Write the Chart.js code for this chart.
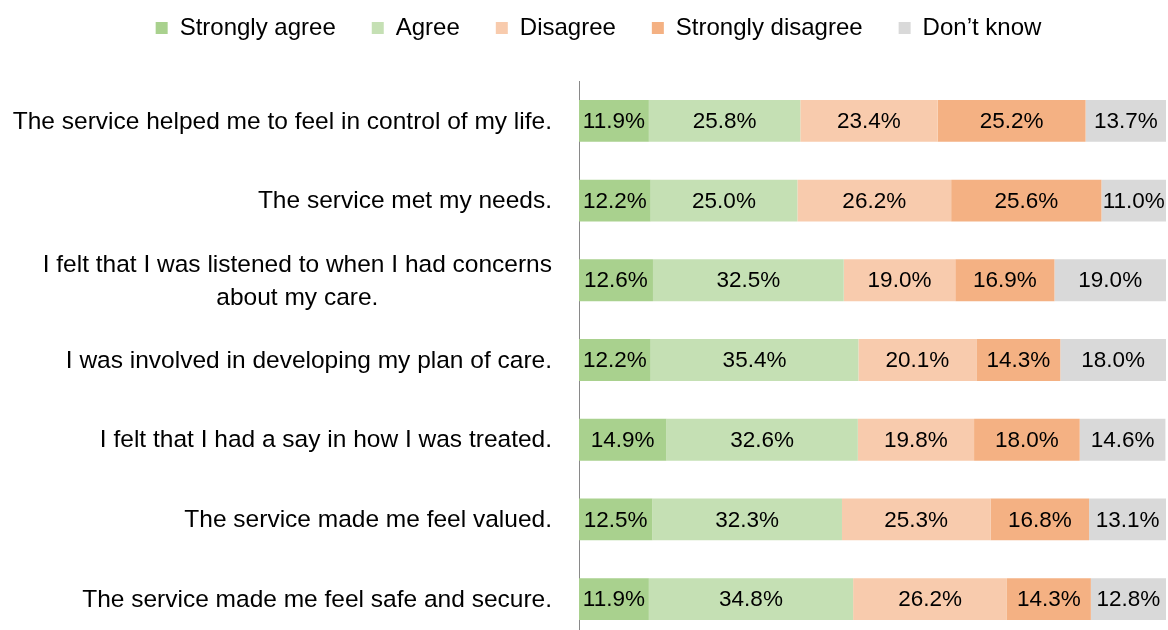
<!DOCTYPE html>
<html>
<head>
<meta charset="utf-8">
<script src="https://cdn.jsdelivr.net/npm/chart.js@4"></script>
<style>
  html, body { margin: 0; padding: 0; background: #fff; overflow: hidden; }
  #wrap { position: relative; width: 1168px; height: 630px; overflow: hidden; }
  #myChart { position: absolute; left: 0; top: -20px; }
</style>
</head>
<body>
<div id="wrap"><canvas id="myChart" width="1168" height="660"></canvas></div>
<script>
// Survey statements, top to bottom
var statements = [
  ['The service helped me to feel in control of my life.'],
  ['The service met my needs.'],
  ['I felt that I was listened to when I had concerns', 'about my care.'],
  ['I was involved in developing my plan of care.'],
  ['I felt that I had a say in how I was treated.'],
  ['The service made me feel valued.'],
  ['The service made me feel safe and secure.']
];
var seriesNames = ['Strongly agree', 'Agree', 'Disagree', 'Strongly disagree', 'Don\u2019t know'];
var seriesColors = ['#A9D18E', '#C5E0B4', '#F8CBAD', '#F4B183', '#D9D9D9'];

// percentages per statement
var stronglyAgree    = [11.9, 12.2, 12.6, 12.2, 14.9, 12.5, 11.9];
var agree            = [25.8, 25.0, 32.5, 35.4, 32.6, 32.3, 34.8];
var disagree         = [23.4, 26.2, 19.0, 20.1, 19.8, 25.3, 26.2];
var stronglyDisagree = [25.2, 25.6, 16.9, 14.3, 18.0, 16.8, 14.3];
var dontKnow         = [13.7, 11.0, 19.0, 18.0, 14.6, 13.1, 12.8];

var allSeries = [stronglyAgree, agree, disagree, stronglyDisagree, dontKnow];
var FONT = "'Liberation Sans', Arial, sans-serif";

Chart.defaults.font.family = FONT;
Chart.defaults.font.size = 24;
Chart.defaults.color = '#000';

// push the plot area down below the legend
var legendGap = {
  id: 'legendGap',
  beforeInit: function(chart) {
    var lg = chart.legend;
    if (!lg) return;
    var origFit = lg.fit;
    lg.fit = function() {
      origFit.call(this);
      this.height += 31;
    };
  }
};

// percentage text in the middle of each segment
var segmentLabels = {
  id: 'segmentLabels',
  afterDatasetsDraw: function(chart) {
    var ctx = chart.ctx;
    ctx.save();
    ctx.font = '22.5px ' + FONT;
    ctx.fillStyle = '#000';
    ctx.textAlign = 'center';
    ctx.textBaseline = 'middle';
    chart.data.datasets.forEach(function(ds, di) {
      var meta = chart.getDatasetMeta(di);
      meta.data.forEach(function(bar, i) {
        var cx = (bar.x + bar.base) / 2;
        ctx.fillText(ds.data[i].toFixed(1) + '%', cx, bar.y + 1);
      });
    });
    ctx.restore();
  }
};

// statement text left of the axis, block right-aligned, lines centred
var statementLabels = {
  id: 'statementLabels',
  afterDraw: function(chart) {
    var ctx = chart.ctx;
    var yScale = chart.scales.y;
    var right = chart.chartArea.left - 27;
    var lineH = 33;
    ctx.save();
    ctx.font = '24.5px ' + FONT;
    ctx.fillStyle = '#000';
    ctx.textBaseline = 'middle';
    statements.forEach(function(lines, i) {
      var cy = yScale.getPixelForTick(i) + 1;
      var widths = lines.map(function(t) { return ctx.measureText(t).width; });
      var maxW = Math.max.apply(null, widths);
      var blockCenter = right - maxW / 2;
      lines.forEach(function(t, k) {
        var y = cy + (k - (lines.length - 1) / 2) * lineH;
        ctx.textAlign = 'center';
        ctx.fillText(t, blockCenter, y);
      });
    });
    ctx.restore();
  }
};

var datasets = seriesNames.map(function(name, k) {
  return {
    label: name,
    data: allSeries[k],
    backgroundColor: seriesColors[k],
    borderWidth: 0,
    barPercentage: 1,
    categoryPercentage: 0.525
  };
});

var config = {
  type: 'bar',
  data: {
    labels: statements.map(function(s) { return s.join(' '); }),
    datasets: datasets
  },
  options: {
    indexAxis: 'y',
    responsive: false,
    animation: false,
    devicePixelRatio: 1,
    layout: { padding: { left: 31, right: 2, top: 0, bottom: 1 } },
    plugins: {
      legend: {
        position: 'top',
        align: 'center',
        labels: {
          boxWidth: 12,
          boxHeight: 12,
          padding: 36,
          color: '#000',
          font: { size: 24, family: FONT }
        }
      },
      tooltip: { enabled: false }
    },
    scales: {
      x: {
        stacked: true,
        min: 0,
        max: 100,
        display: false
      },
      y: {
        stacked: true,
        grid: { display: false },
        border: { display: true, color: '#898989', width: 1 },
        ticks: { display: false },
        afterFit: function(scale) { scale.width = 548; }
      }
    }
  },
  plugins: [legendGap, segmentLabels, statementLabels]
};

var chartMain = new Chart(document.getElementById('myChart'), config);
</script>
</body>
</html>
